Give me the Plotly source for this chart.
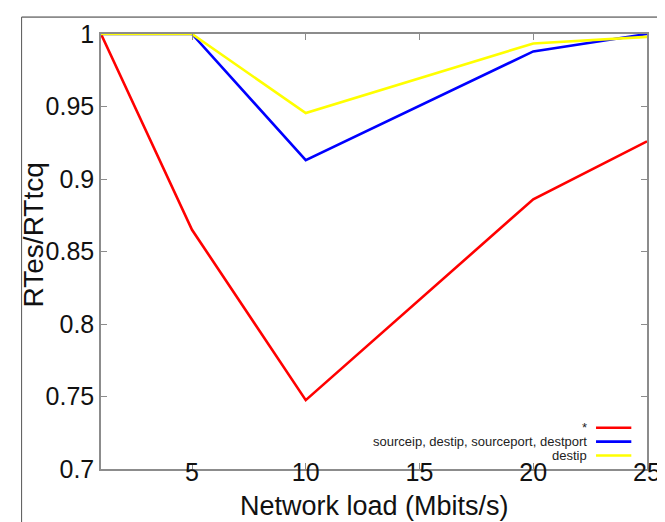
import plotly.graph_objects as go

# ---- data ----
load_mbits = [1, 5, 10, 20, 25]
series_names = ["*", "sourceip, destip, sourceport, destport", "destip"]
ratio_all = [1.0, 0.865, 0.7475, 0.886, 0.926]
ratio_5tuple = [1.0, 1.0, 0.913, 0.988, 1.0]
ratio_destip = [1.0, 1.0, 0.9455, 0.9935, 0.998]
series_values = [ratio_all, ratio_5tuple, ratio_destip]
series_colors = ["#ff0000", "#0000ff", "#ffff00"]
x_ticks = [5, 10, 15, 20, 25]
y_ticks = [0.7, 0.75, 0.8, 0.85, 0.9, 0.95, 1.0]
y_tick_text = ["0.7", "0.75", "0.8", "0.85", "0.9", "0.95", "1"]
x_title = "Network load (Mbits/s)"
y_title = "RTes/RTtcq"

W, H = 665, 522
L, R, T, B = 93, 15, 24, 61
pw, ph = W - L - R, H - T - B

FONT = "Liberation Sans, Arial, Helvetica, sans-serif"

fig = go.Figure()
for name, vals, col in zip(series_names, series_values, series_colors):
    fig.add_trace(go.Scatter(x=load_mbits, y=vals, mode="lines", name=name,
                             line=dict(color=col, width=2.6), showlegend=False))

def px2paper_x(px):
    return (px - L) / pw

def px2paper_y(py):
    return (H - B - py) / ph

shapes = []
annotations = []
# manual legend: text right-aligned, line sample to the right
leg_rows = [419.5, 433.5, 447.5]
for name, col, py in zip(series_names, series_colors, leg_rows):
    annotations.append(dict(xref="paper", yref="paper", x=px2paper_x(591), y=px2paper_y(py),
                            text=name, showarrow=False, xanchor="right", yanchor="middle",
                            font=dict(family=FONT, size=13, color="#222")))
    shapes.append(dict(type="line", xref="paper", yref="paper",
                       x0=px2paper_x(598), x1=px2paper_x(634),
                       y0=px2paper_y(py), y1=px2paper_y(py),
                       line=dict(color=col, width=2.6)))

# axis titles
annotations.append(dict(xref="paper", yref="paper", x=0.5, y=px2paper_y(498),
                        text=x_title, showarrow=False, xanchor="center", yanchor="middle",
                        font=dict(family=FONT, size=27, color="#111")))
annotations.append(dict(xref="paper", yref="paper", x=px2paper_x(24), y=px2paper_y(226),
                        text=y_title, showarrow=False, xanchor="center", yanchor="middle",
                        textangle=-90, font=dict(family=FONT, size=28, color="#111")))

# outer page frame (cropped figure border)
shapes.append(dict(type="line", xref="paper", yref="paper",
                   x0=px2paper_x(12), x1=px2paper_x(680), y0=px2paper_y(7), y1=px2paper_y(7),
                   line=dict(color="#333333", width=1)))
shapes.append(dict(type="line", xref="paper", yref="paper",
                   x0=px2paper_x(12), x1=px2paper_x(12), y0=px2paper_y(7), y1=px2paper_y(517),
                   line=dict(color="#555555", width=1)))
shapes.append(dict(type="line", xref="paper", yref="paper",
                   x0=px2paper_x(12), x1=px2paper_x(680), y0=px2paper_y(517), y1=px2paper_y(517),
                   line=dict(color="#d0d0d0", width=1)))

fig.update_layout(
    width=W, height=H,
    margin=dict(l=L, r=R, t=T, b=B),
    paper_bgcolor="white", plot_bgcolor="white",
    font=dict(family=FONT, color="#111"),
    shapes=shapes, annotations=annotations,
    xaxis=dict(range=[1, 25], tickvals=x_ticks, ticks="inside", ticklen=6,
               tickcolor="#8c8c8c", showline=True, linecolor="#8c8c8c", linewidth=1.5,
               mirror="ticks", showgrid=False, zeroline=False, ticklabelstandoff=-20,
               tickfont=dict(family=FONT, size=25, color="#111")),
    yaxis=dict(range=[0.7, 1.0], tickvals=y_ticks, ticktext=y_tick_text, ticks="inside",
               ticklen=6, tickcolor="#8c8c8c", showline=True, linecolor="#8c8c8c",
               linewidth=1.5, mirror="ticks", showgrid=False, zeroline=False,
               tickfont=dict(family=FONT, size=25, color="#111")),
)

fig.write_html("out.html")
